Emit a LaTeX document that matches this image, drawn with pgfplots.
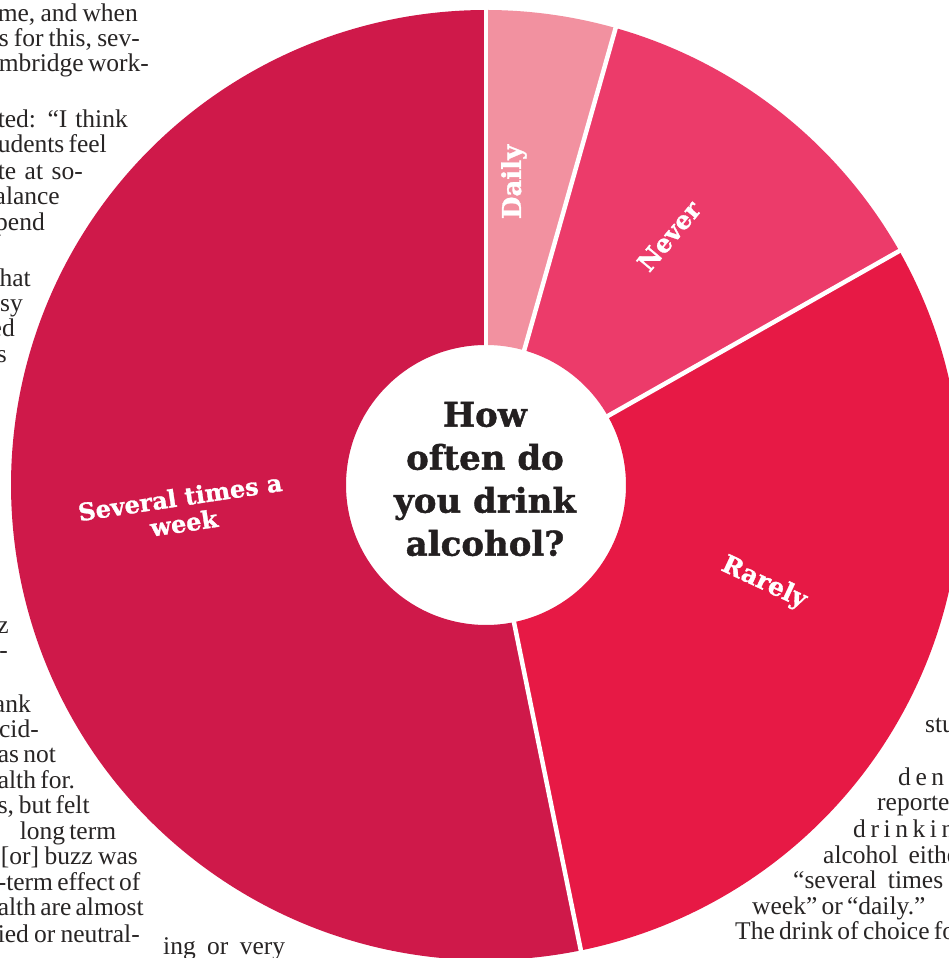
\documentclass[border=0pt]{standalone}
\usepackage{fontspec}
\setmainfont{Liberation Serif}
\newfontfamily\slab[FakeBold=1.2]{DejaVu Serif}
\newfontfamily\bodyfont{Liberation Serif}
\newcommand\bt{\bodyfont\fontsize{25.5}{25}\selectfont}
\newcommand\btls{\bodyfont\fontsize{25.5}{25}\selectfont\addfontfeature{LetterSpace=18}}
\newcommand\jl[2]{\bt\makebox[#1pt][s]{#2}}
\usepackage{pgfplots}
\usepackage{pgfplotstable}
\pgfplotsset{compat=1.18}
\definecolor{cSeveral}{RGB}{207,25,74}
\definecolor{cRarely}{RGB}{231,25,69}
\definecolor{cNever}{RGB}{236,59,106}
\definecolor{cDaily}{RGB}{242,145,160}
\definecolor{ink}{RGB}{35,31,32}
\definecolor{body}{RGB}{40,37,37}

\pgfplotstableread{
label value
Daily 4.4
Never 12.4
Rarely 30.0
Several 53.2
}\drinkdata

\newcommand\sector[3]{\fill[#3, shift={(axis cs:0,0)}] (#1:475pt) arc[start angle=#1, end angle=#2, radius=475pt] -- (#2:140pt) arc[start angle=#2, end angle=#1, radius=140pt] -- cycle;}
\newcommand\sep[1]{\draw[white, line width=4.5pt, shift={(axis cs:0,0)}] (#1:130pt) -- (#1:490pt);}

\begin{document}
\pgfplotstablegetelem{0}{value}\of\drinkdata\pgfmathsetmacro\vA{\pgfplotsretval}%
\pgfplotstablegetelem{1}{value}\of\drinkdata\pgfmathsetmacro\vB{\pgfplotsretval}%
\pgfplotstablegetelem{2}{value}\of\drinkdata\pgfmathsetmacro\vC{\pgfplotsretval}%
\pgfplotstablegetelem{3}{value}\of\drinkdata\pgfmathsetmacro\vD{\pgfplotsretval}%
\pgfmathsetmacro\aA{90}%
\pgfmathsetmacro\aB{\aA-3.6*\vA}%
\pgfmathsetmacro\aC{\aB-3.6*\vB}%
\pgfmathsetmacro\aD{\aC-3.6*\vC}%
\pgfmathsetmacro\aE{\aD-3.6*\vD}%
\begin{tikzpicture}
\useasboundingbox (0,0) rectangle (949pt,958pt);
\clip (0,0) rectangle (949pt,958pt);
\fill[white] (0,0) rectangle (949pt,958pt);
\begin{axis}[at={(0,0)}, anchor=south west, x=1pt, y=1pt,
  xmin=-486, xmax=463, ymin=-473, ymax=485,
  hide axis, scale only axis, clip=false]
\sector{\aA}{\aB}{cDaily}
\sector{\aB}{\aC}{cNever}
\sector{\aC}{\aD}{cRarely}
\sector{\aD}{\aE}{cSeveral}
\sep{\aA}\sep{\aB}\sep{\aC}\sep{\aD}
\end{axis}
\begin{scope}[x=1pt, y=-1pt, shift={(0pt,958pt)}]
% chart labels
\node[text=white, rotate=90, font={\slab\bfseries\fontsize{26}{28}\selectfont}] at (514,182) {Daily};
\node[text=white, rotate=50, font={\slab\bfseries\fontsize{25}{28}\selectfont}] at (669,236) {Never};
\node[text=white, rotate=-25, font={\slab\bfseries\fontsize{25}{28}\selectfont}] at (764,583) {Rarely};
\node[text=white, rotate=8.5, align=center, font={\slab\bfseries\fontsize{24}{26}\selectfont}] at (182,510) {Several times a\\week};
\node[text=ink, align=center, font={\slab\bfseries\fontsize{34}{43}\selectfont}] at (485,479) {How\\often do\\you drink\\alcohol?};
% surrounding newspaper text
\begin{scope}[every node/.style={text=body, inner sep=0pt}]
\node[anchor=base east] at (138,22) {\jl{140}{me, and when}};
\node[anchor=base east] at (140,47) {\jl{141}{s for this, sev-}};
\node[anchor=base east] at (137,72) {\jl{138}{mbridge work-}};
\node[anchor=base east] at (128,128) {\jl{130}{ted: “I think}};
\node[anchor=base east] at (103,153) {\jl{105}{udents feel}};
\node[anchor=base east] at (83,180) {\jl{85}{te at so-}};
\node[anchor=base east] at (60,205) {\bt alance};
\node[anchor=base east] at (45,231) {\bt pend};
\node[anchor=base east] at (31,287) {\bt hat};
\node[anchor=base east] at (23,312) {\bt asy};
\node[anchor=base east] at (15,337) {\bt ed};
\node[anchor=base east] at (7,363) {\bt s};
\node[anchor=base east] at (9,634) {\bt z};
\node[anchor=base east] at (8,659) {\bt n-};
\node[anchor=base east] at (31,713) {\bt ank};
\node[anchor=base east] at (39,738) {\bt ecid-};
\node[anchor=base east] at (56,763) {\jl{58}{as not}};
\node[anchor=base east] at (70,789) {\jl{72}{alth for.}};
\node[anchor=base east] at (88,814) {\jl{90}{s, but felt}};
\node[anchor=base east] at (111,840) {\jl{91}{long term}};
\node[anchor=base east] at (138,865) {\jl{137}{[or] buzz was}};
\node[anchor=base east] at (139,891) {\jl{141}{-term effect of}};
\node[anchor=base east] at (138,916) {\jl{140}{alth are almost}};
\node[anchor=base east] at (140,942) {\jl{142}{ied or neutral-}};
\node[anchor=base west] at (163,954) {\jl{122}{ing or very}};
\node[anchor=base west] at (925,733) {\bt stu};
\node[anchor=base west] at (898,786) {\btls dent};
\node[anchor=base west] at (877,811) {\bt reporte};
\node[anchor=base west] at (853,838) {\btls drinkin};
\node[anchor=base west] at (823,864) {\jl{135}{alcohol eithe}};
\node[anchor=base west] at (793,889) {\jl{150}{“several times}};
\node[anchor=base west] at (752,915) {\jl{161}{week” or “daily.”}};
\node[anchor=base west] at (735,940) {\jl{220}{The drink of choice fo}};
\end{scope}
\end{scope}
\end{tikzpicture}
\end{document}
